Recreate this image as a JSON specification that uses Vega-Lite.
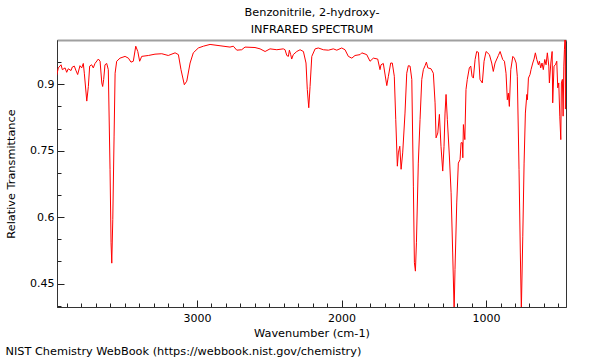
{
  "$schema": "https://vega.github.io/schema/vega-lite/v6.json",
  "width": 509,
  "height": 267,
  "autosize": {"type": "none"},
  "padding": {"left": 57, "top": 40, "right": 34, "bottom": 53},
  "background": "white",
  "config": {
    "view": {"stroke": "#333333", "strokeWidth": 1},
    "font": "DejaVu Sans"
  },
  "title": {
    "text": "NIST Chemistry WebBook (https://webbook.nist.gov/chemistry)",
    "orient": "bottom",
    "anchor": "start",
    "frame": "bounds",
    "font": "DejaVu Sans",
    "fontSize": 11.3,
    "fontWeight": "normal",
    "color": "black",
    "offset": 8
  },
  "data": {
    "values": [
      {"w": 3971, "t": 0.920}, {"w": 3960, "t": 0.937}, {"w": 3941, "t": 0.944}, {"w": 3932, "t": 0.933},
      {"w": 3913, "t": 0.937}, {"w": 3902, "t": 0.927}, {"w": 3891, "t": 0.935}, {"w": 3872, "t": 0.931},
      {"w": 3863, "t": 0.939}, {"w": 3849, "t": 0.941}, {"w": 3839, "t": 0.932}, {"w": 3826, "t": 0.922},
      {"w": 3810, "t": 0.942}, {"w": 3798, "t": 0.937}, {"w": 3787, "t": 0.947}, {"w": 3780, "t": 0.925},
      {"w": 3763, "t": 0.862}, {"w": 3752, "t": 0.895}, {"w": 3743, "t": 0.941}, {"w": 3729, "t": 0.944},
      {"w": 3718, "t": 0.937}, {"w": 3706, "t": 0.947}, {"w": 3683, "t": 0.957}, {"w": 3671, "t": 0.952},
      {"w": 3659, "t": 0.903}, {"w": 3653, "t": 0.895}, {"w": 3646, "t": 0.911}, {"w": 3637, "t": 0.944},
      {"w": 3625, "t": 0.947}, {"w": 3614, "t": 0.933}, {"w": 3602, "t": 0.708}, {"w": 3595, "t": 0.542},
      {"w": 3590, "t": 0.496}, {"w": 3583, "t": 0.595}, {"w": 3574, "t": 0.783}, {"w": 3567, "t": 0.925},
      {"w": 3556, "t": 0.952}, {"w": 3533, "t": 0.959}, {"w": 3498, "t": 0.963}, {"w": 3475, "t": 0.959},
      {"w": 3457, "t": 0.950}, {"w": 3441, "t": 0.952}, {"w": 3424, "t": 0.986}, {"w": 3410, "t": 0.974},
      {"w": 3397, "t": 0.952}, {"w": 3383, "t": 0.963}, {"w": 3337, "t": 0.965}, {"w": 3291, "t": 0.968},
      {"w": 3244, "t": 0.969}, {"w": 3199, "t": 0.965}, {"w": 3152, "t": 0.971}, {"w": 3129, "t": 0.967},
      {"w": 3111, "t": 0.933}, {"w": 3088, "t": 0.899}, {"w": 3071, "t": 0.907}, {"w": 3048, "t": 0.948},
      {"w": 3026, "t": 0.971}, {"w": 2991, "t": 0.982}, {"w": 2956, "t": 0.986}, {"w": 2910, "t": 0.990},
      {"w": 2841, "t": 0.987}, {"w": 2772, "t": 0.984}, {"w": 2749, "t": 0.986}, {"w": 2725, "t": 0.977},
      {"w": 2691, "t": 0.978}, {"w": 2668, "t": 0.984}, {"w": 2599, "t": 0.983}, {"w": 2564, "t": 0.980},
      {"w": 2529, "t": 0.974}, {"w": 2495, "t": 0.980}, {"w": 2448, "t": 0.978}, {"w": 2403, "t": 0.980},
      {"w": 2391, "t": 0.978}, {"w": 2379, "t": 0.965}, {"w": 2368, "t": 0.963}, {"w": 2361, "t": 0.977},
      {"w": 2352, "t": 0.967}, {"w": 2345, "t": 0.957}, {"w": 2334, "t": 0.967}, {"w": 2310, "t": 0.974},
      {"w": 2287, "t": 0.978}, {"w": 2264, "t": 0.974}, {"w": 2246, "t": 0.948}, {"w": 2237, "t": 0.888},
      {"w": 2227, "t": 0.847}, {"w": 2218, "t": 0.895}, {"w": 2206, "t": 0.963}, {"w": 2183, "t": 0.980},
      {"w": 2161, "t": 0.982}, {"w": 2126, "t": 0.978}, {"w": 2091, "t": 0.977}, {"w": 2057, "t": 0.980},
      {"w": 2033, "t": 0.977}, {"w": 1999, "t": 0.982}, {"w": 1976, "t": 0.978}, {"w": 1953, "t": 0.963},
      {"w": 1929, "t": 0.959}, {"w": 1907, "t": 0.965}, {"w": 1872, "t": 0.967}, {"w": 1860, "t": 0.971},
      {"w": 1826, "t": 0.967}, {"w": 1803, "t": 0.952}, {"w": 1780, "t": 0.959}, {"w": 1750, "t": 0.957},
      {"w": 1734, "t": 0.933}, {"w": 1727, "t": 0.944}, {"w": 1711, "t": 0.947}, {"w": 1687, "t": 0.897},
      {"w": 1676, "t": 0.918}, {"w": 1660, "t": 0.948}, {"w": 1649, "t": 0.948}, {"w": 1635, "t": 0.918},
      {"w": 1625, "t": 0.820}, {"w": 1614, "t": 0.715}, {"w": 1607, "t": 0.745}, {"w": 1597, "t": 0.760},
      {"w": 1588, "t": 0.708}, {"w": 1577, "t": 0.745}, {"w": 1561, "t": 0.835}, {"w": 1549, "t": 0.925},
      {"w": 1538, "t": 0.942}, {"w": 1526, "t": 0.941}, {"w": 1514, "t": 0.911}, {"w": 1503, "t": 0.670},
      {"w": 1496, "t": 0.497}, {"w": 1489, "t": 0.478}, {"w": 1482, "t": 0.542}, {"w": 1469, "t": 0.722},
      {"w": 1457, "t": 0.820}, {"w": 1445, "t": 0.911}, {"w": 1434, "t": 0.933}, {"w": 1422, "t": 0.942},
      {"w": 1413, "t": 0.950}, {"w": 1403, "t": 0.937}, {"w": 1381, "t": 0.935}, {"w": 1365, "t": 0.925},
      {"w": 1353, "t": 0.858}, {"w": 1346, "t": 0.779}, {"w": 1334, "t": 0.790}, {"w": 1323, "t": 0.832},
      {"w": 1312, "t": 0.760}, {"w": 1300, "t": 0.704}, {"w": 1291, "t": 0.760}, {"w": 1284, "t": 0.835},
      {"w": 1277, "t": 0.877}, {"w": 1268, "t": 0.820}, {"w": 1254, "t": 0.738}, {"w": 1242, "t": 0.655},
      {"w": 1231, "t": 0.519}, {"w": 1221, "t": 0.390}, {"w": 1215, "t": 0.482}, {"w": 1203, "t": 0.632},
      {"w": 1192, "t": 0.722}, {"w": 1180, "t": 0.730}, {"w": 1173, "t": 0.768}, {"w": 1164, "t": 0.768},
      {"w": 1161, "t": 0.734}, {"w": 1157, "t": 0.809}, {"w": 1147, "t": 0.775}, {"w": 1139, "t": 0.888},
      {"w": 1130, "t": 0.911}, {"w": 1116, "t": 0.937}, {"w": 1106, "t": 0.941}, {"w": 1097, "t": 0.918},
      {"w": 1088, "t": 0.914}, {"w": 1076, "t": 0.956}, {"w": 1065, "t": 0.974}, {"w": 1053, "t": 0.972},
      {"w": 1042, "t": 0.911}, {"w": 1026, "t": 0.903}, {"w": 1014, "t": 0.952}, {"w": 1000, "t": 0.974},
      {"w": 977, "t": 0.967}, {"w": 961, "t": 0.948}, {"w": 950, "t": 0.929}, {"w": 938, "t": 0.948},
      {"w": 915, "t": 0.965}, {"w": 903, "t": 0.974}, {"w": 885, "t": 0.956}, {"w": 873, "t": 0.952},
      {"w": 862, "t": 0.925}, {"w": 853, "t": 0.865}, {"w": 846, "t": 0.880}, {"w": 839, "t": 0.850},
      {"w": 829, "t": 0.933}, {"w": 815, "t": 0.963}, {"w": 804, "t": 0.959}, {"w": 792, "t": 0.948},
      {"w": 784, "t": 0.918}, {"w": 772, "t": 0.708}, {"w": 763, "t": 0.519}, {"w": 756, "t": 0.390},
      {"w": 746, "t": 0.557}, {"w": 737, "t": 0.722}, {"w": 728, "t": 0.835}, {"w": 718, "t": 0.877},
      {"w": 714, "t": 0.865}, {"w": 707, "t": 0.914}, {"w": 696, "t": 0.922}, {"w": 689, "t": 0.933},
      {"w": 677, "t": 0.948}, {"w": 668, "t": 0.957}, {"w": 659, "t": 0.971}, {"w": 649, "t": 0.956},
      {"w": 638, "t": 0.944}, {"w": 631, "t": 0.952}, {"w": 622, "t": 0.937}, {"w": 613, "t": 0.948},
      {"w": 604, "t": 0.933}, {"w": 594, "t": 0.956}, {"w": 585, "t": 0.944}, {"w": 576, "t": 0.971},
      {"w": 566, "t": 0.941}, {"w": 562, "t": 0.903}, {"w": 552, "t": 0.948}, {"w": 543, "t": 0.974},
      {"w": 539, "t": 0.858}, {"w": 530, "t": 0.941}, {"w": 520, "t": 0.944}, {"w": 511, "t": 0.952},
      {"w": 504, "t": 0.892}, {"w": 497, "t": 0.903}, {"w": 490, "t": 0.828}, {"w": 483, "t": 0.775},
      {"w": 479, "t": 0.903}, {"w": 472, "t": 0.911}, {"w": 467, "t": 0.828}, {"w": 462, "t": 0.941},
      {"w": 458, "t": 0.978}, {"w": 453, "t": 1.01}, {"w": 451, "t": 0.844}, {"w": 448, "t": 1.0}
    ]
  },
  "layer": [
    {
      "mark": {"type": "line", "color": "#ff0000", "strokeWidth": 1, "clip": true},
      "encoding": {
        "x": {
          "field": "w",
          "type": "quantitative",
          "scale": {"domain": [447, 3969], "reverse": true, "nice": false, "zero": false},
          "axis": {
            "orient": "bottom",
            "values": [500, 600, 700, 800, 900, 1000, 1100, 1200, 1300, 1400, 1500, 1600, 1700, 1800, 1900, 2000, 2100, 2200, 2300, 2400, 2500, 2600, 2700, 2800, 2900, 3000, 3100, 3200, 3300, 3400, 3500, 3600, 3700, 3800, 3900],
            "labelExpr": "datum.value % 1000 === 0 ? format(datum.value, 'd') : ''",
            "labelOverlap": false,
            "grid": false,
            "domainColor": "#333333",
            "tickColor": "#222222",
            "tickSize": {"condition": {"test": "datum.value % 1000 === 0", "value": -7}, "value": -4},
            "labelPadding": 12,
            "labelFont": "DejaVu Sans",
            "labelFontSize": 11,
            "labelColor": "black",
            "title": "Wavenumber (cm-1)",
            "titleFont": "DejaVu Sans",
            "titleFontSize": 11.3,
            "titleFontWeight": "normal",
            "titleColor": "black",
            "titlePadding": 1
          }
        },
        "y": {
          "field": "t",
          "type": "quantitative",
          "scale": {"domain": [0.397, 1.0], "nice": false, "zero": false},
          "axis": {
            "values": [0.4, 0.45, 0.5, 0.55, 0.6, 0.65, 0.7, 0.75, 0.8, 0.85, 0.9, 0.95],
            "labelExpr": "abs(datum.value - 0.45) < 0.001 ? '0.45' : abs(datum.value - 0.6) < 0.001 ? '0.6' : abs(datum.value - 0.75) < 0.001 ? '0.75' : abs(datum.value - 0.9) < 0.001 ? '0.9' : ''",
            "labelOverlap": false,
            "grid": false,
            "domainColor": "#333333",
            "tickColor": "#222222",
            "tickSize": {"condition": {"test": "abs(datum.value - 0.45) < 0.001 || abs(datum.value - 0.6) < 0.001 || abs(datum.value - 0.75) < 0.001 || abs(datum.value - 0.9) < 0.001", "value": -7}, "value": -4},
            "labelPadding": 10,
            "labelFont": "DejaVu Sans",
            "labelFontSize": 11,
            "labelColor": "black",
            "title": "Relative Transmittance",
            "titleFont": "DejaVu Sans",
            "titleFontSize": 11.3,
            "titleFontWeight": "normal",
            "titleColor": "black",
            "titlePadding": 13
          }
        }
      }
    },
    {
      "mark": {"type": "rule", "strokeOpacity": 0},
      "encoding": {
        "x": {
          "field": "w",
          "type": "quantitative",
          "axis": {
            "orient": "top",
            "labels": false,
            "ticks": false,
            "grid": false,
            "domainColor": "#a0a0a0",
            "domainWidth": 2,
            "title": ["Benzonitrile, 2-hydroxy-", "INFRARED SPECTRUM"],
            "titleFont": "DejaVu Sans",
            "titleFontSize": 11.3,
            "titleFontWeight": "normal",
            "titleColor": "black",
            "titleLineHeight": 17,
            "titlePadding": 6
          }
        }
      }
    }
  ],
  "resolve": {"axis": {"x": "independent"}}
}
